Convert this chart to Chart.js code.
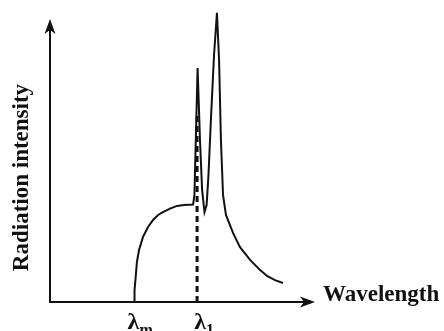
<!DOCTYPE html>
<html>
<head>
<meta charset="utf-8">
<script src="https://cdn.jsdelivr.net/npm/chart.js@4"></script>
<style>
  html, body { margin: 0; padding: 0; background: #fff; }
  #wrap { width: 444px; height: 331px; }
</style>
</head>
<body>
<div id="wrap"><canvas id="chart"></canvas></div>
<script>
// spectrum (arbitrary units, 0..100 on both axes)
const wavelength = [31.7, 31.9, 32.3, 32.8, 33.6, 35.1, 37.0, 38.9, 40.8, 42.6, 45.3, 47.9, 50.6, 54.0,
  54.5, 55.7, 56.6, 57.4, 58.3, 59.1, 59.8, 60.8, 61.9, 63.0, 63.8, 64.5, 65.3,
  66.4, 69.1, 71.7, 75.5, 79.2, 81.9, 84.9, 87.9];
const intensity = [0, 4.1, 8.2, 13.7, 17.8, 22.3, 25.7, 28.1, 29.8, 30.8, 32.0, 32.9, 33.2, 33.4,
  36.6, 80.1, 55.5, 38.4, 30.8, 33.2, 43.5, 64.0, 84.6, 99.0, 82.9, 55.5, 36.6,
  29.8, 23.6, 18.8, 14.4, 11.0, 8.9, 7.5, 6.5];

// marked wavelengths on the x axis
const lambdaM = 31.7;
const lambda1 = 55.5;
const lambda1Top = 64; // where the dashed line stops
const xAxisEnd = 100;
const yAxisEnd = 96.9;

const ink = "#111";
const serif = "'Liberation Serif', 'Times New Roman', serif";

const points = wavelength.map((x, i) => ({ x: x, y: intensity[i] }));

function arrowHead(ctx, tipX, tipY, dir) {
  // dir: "up" or "right"
  const len = 15, half = 5.5, notch = 4;
  ctx.beginPath();
  if (dir === "up") {
    ctx.moveTo(tipX, tipY);
    ctx.lineTo(tipX - half, tipY + len);
    ctx.lineTo(tipX, tipY + len - notch);
    ctx.lineTo(tipX + half, tipY + len);
  } else {
    ctx.moveTo(tipX, tipY);
    ctx.lineTo(tipX - len, tipY - half);
    ctx.lineTo(tipX - len + notch, tipY);
    ctx.lineTo(tipX - len, tipY + half);
  }
  ctx.closePath();
  ctx.fill();
}

const decor = {
  id: "decor",
  beforeDatasetsDraw(chart) {
    const ctx = chart.ctx;
    const xs = chart.scales.x, ys = chart.scales.y;
    const x0 = xs.getPixelForValue(0), y0 = ys.getPixelForValue(0);
    const xEnd = xs.getPixelForValue(xAxisEnd), yEnd = ys.getPixelForValue(yAxisEnd);
    ctx.save();
    ctx.strokeStyle = ink;
    ctx.fillStyle = ink;
    ctx.lineWidth = 2;
    // axes
    ctx.beginPath();
    ctx.moveTo(x0, yEnd + 8);
    ctx.lineTo(x0, y0);
    ctx.lineTo(xEnd - 8, y0);
    ctx.stroke();
    arrowHead(ctx, x0, yEnd, "up");
    arrowHead(ctx, xEnd, y0, "right");
    ctx.restore();
  },
  afterDatasetsDraw(chart) {
    const ctx = chart.ctx;
    const xs = chart.scales.x, ys = chart.scales.y;
    const y0 = ys.getPixelForValue(0);
    ctx.save();
    ctx.strokeStyle = ink;
    ctx.fillStyle = ink;
    // dashed line at lambda1
    const xl = xs.getPixelForValue(lambda1);
    ctx.lineWidth = 3;
    ctx.setLineDash([6, 4]);
    ctx.beginPath();
    ctx.moveTo(xl, y0);
    ctx.lineTo(xl, ys.getPixelForValue(lambda1Top));
    ctx.stroke();
    ctx.setLineDash([]);

    // lambda labels
    function lambdaLabel(x, sub) {
      ctx.font = "bold 24px " + serif;
      ctx.textAlign = "center";
      ctx.textBaseline = "alphabetic";
      ctx.fillText("λ", x, y0 + 27);
      const w = ctx.measureText("λ").width;
      ctx.font = "bold 16px " + serif;
      ctx.textAlign = "left";
      ctx.fillText(sub, x + w / 2, y0 + 33);
    }
    lambdaLabel(xs.getPixelForValue(lambdaM) - 0.5, "m");
    lambdaLabel(xl + 3, "1");

    // axis titles
    ctx.font = "bold 23px " + serif;
    ctx.textAlign = "left";
    ctx.textBaseline = "alphabetic";
    ctx.fillText("Wavelength", xs.getPixelForValue(xAxisEnd) + 8, y0 - 1);

    ctx.translate(28, (ys.getPixelForValue(0) + ys.getPixelForValue(yAxisEnd)) / 2 + 17);
    ctx.rotate(-Math.PI / 2);
    ctx.textAlign = "center";
    ctx.fillText("Radiation intensity", 0, 0);
    ctx.restore();
  }
};

new Chart(document.getElementById("chart"), {
  type: "line",
  data: {
    datasets: [{
      data: points,
      borderColor: ink,
      borderWidth: 2,
      pointRadius: 0,
      tension: 0,
      fill: false,
      clip: false
    }]
  },
  options: {
    responsive: true,
    maintainAspectRatio: false,
    animation: false,
    layout: { padding: { left: 50, right: 129, top: 10, bottom: 29 } },
    plugins: { legend: { display: false }, tooltip: { enabled: false } },
    scales: {
      x: { type: "linear", min: 0, max: 100, display: false },
      y: { min: 0, max: 100, display: false }
    }
  },
  plugins: [decor]
});
</script>
</body>
</html>
